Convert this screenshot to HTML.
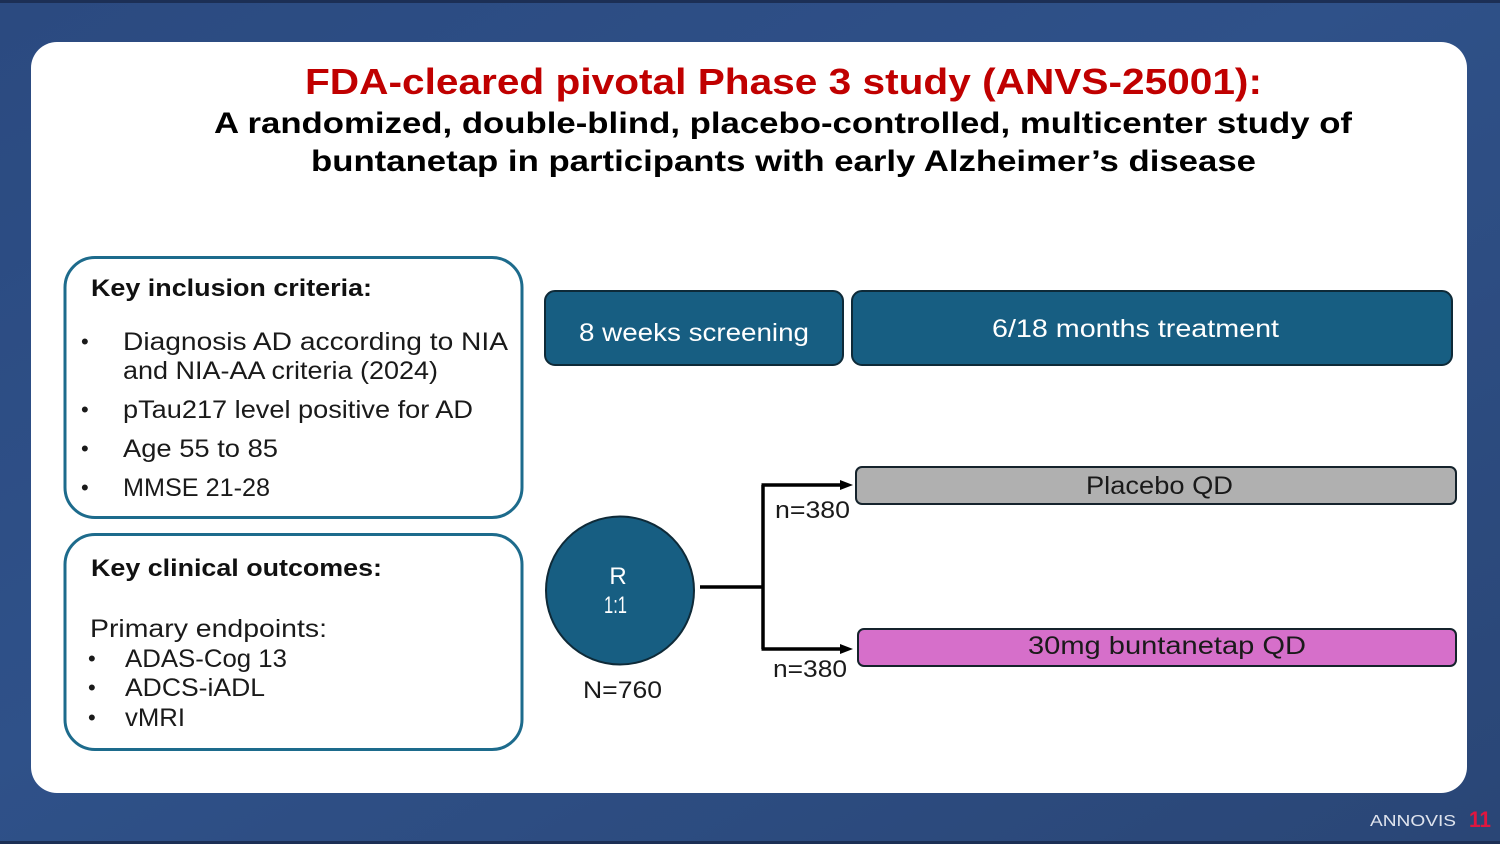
<!DOCTYPE html>
<html><head><meta charset="utf-8"><style>
html,body{margin:0;padding:0;width:1500px;height:844px;overflow:hidden;}
svg{display:block;}
text{font-family:"Liberation Sans",sans-serif;}
</style></head><body>
<svg width="1500" height="844" viewBox="0 0 1500 844" xmlns="http://www.w3.org/2000/svg">
<defs>
<linearGradient id="bg" x1="0" y1="0" x2="1" y2="1">
<stop offset="0" stop-color="#2b4a80"/>
<stop offset="0.45" stop-color="#2f5189"/>
<stop offset="1" stop-color="#2a4676"/>
</linearGradient>
</defs>
<rect x="0" y="0" width="1500" height="844" fill="url(#bg)"/>
<rect x="0" y="0" width="1500" height="3" fill="#1c2f55"/>
<rect x="0" y="841" width="1500" height="3" fill="#1c2f55"/>
<rect x="31" y="42" width="1436" height="751" rx="26" fill="#ffffff"/>

<!-- Title -->
<text x="305" y="94" font-size="36" font-weight="bold" fill="#c00000" textLength="957" lengthAdjust="spacingAndGlyphs">FDA-cleared pivotal Phase 3 study (ANVS-25001):</text>
<text x="214" y="133" font-size="30" font-weight="bold" fill="#000" textLength="1138" lengthAdjust="spacingAndGlyphs">A randomized, double-blind, placebo-controlled, multicenter study of</text>
<text x="311" y="171" font-size="30" font-weight="bold" fill="#000" textLength="945" lengthAdjust="spacingAndGlyphs">buntanetap in participants with early Alzheimer’s disease</text>

<!-- Left box 1 -->
<rect x="65" y="257.5" width="457" height="260" rx="30" fill="#fff" stroke="#1d6b8c" stroke-width="3"/>
<text x="91" y="296" font-size="24" font-weight="bold" fill="#111" textLength="281" lengthAdjust="spacingAndGlyphs">Key inclusion criteria:</text>
<g font-size="25" fill="#1a1a1a">
<text x="81" y="349" font-size="22">•</text>
<text x="123" y="350" textLength="385" lengthAdjust="spacingAndGlyphs">Diagnosis AD according to NIA</text>
<text x="123" y="379" textLength="315" lengthAdjust="spacingAndGlyphs">and NIA-AA criteria (2024)</text>
<text x="81" y="417" font-size="22">•</text>
<text x="123" y="418" textLength="350" lengthAdjust="spacingAndGlyphs">pTau217 level positive for AD</text>
<text x="81" y="456" font-size="22">•</text>
<text x="123" y="457" textLength="155" lengthAdjust="spacingAndGlyphs">Age 55 to 85</text>
<text x="81" y="495" font-size="22">•</text>
<text x="123" y="496" textLength="147" lengthAdjust="spacingAndGlyphs">MMSE 21-28</text>
</g>

<!-- Left box 2 -->
<rect x="65" y="534.5" width="457" height="215" rx="30" fill="#fff" stroke="#1d6b8c" stroke-width="3"/>
<text x="91" y="576" font-size="24" font-weight="bold" fill="#111" textLength="291" lengthAdjust="spacingAndGlyphs">Key clinical outcomes:</text>
<g font-size="25" fill="#1a1a1a">
<text x="90" y="637" textLength="237" lengthAdjust="spacingAndGlyphs">Primary endpoints:</text>
<text x="88" y="666" font-size="22">•</text>
<text x="125" y="667" textLength="162" lengthAdjust="spacingAndGlyphs">ADAS-Cog 13</text>
<text x="88" y="695" font-size="22">•</text>
<text x="125" y="696" textLength="140" lengthAdjust="spacingAndGlyphs">ADCS-iADL</text>
<text x="88" y="725" font-size="22">•</text>
<text x="125" y="726" textLength="60" lengthAdjust="spacingAndGlyphs">vMRI</text>
</g>

<!-- Timeline boxes -->
<rect x="545" y="291" width="298" height="74" rx="10" fill="#175e82" stroke="#0e2a38" stroke-width="2"/>
<text x="579" y="341" font-size="25" fill="#fff" textLength="230" lengthAdjust="spacingAndGlyphs">8 weeks screening</text>
<rect x="852" y="291" width="600" height="74" rx="10" fill="#175e82" stroke="#0e2a38" stroke-width="2"/>
<text x="992" y="337" font-size="25" fill="#fff" textLength="287" lengthAdjust="spacingAndGlyphs">6/18 months treatment</text>

<!-- Arms -->
<rect x="856" y="467" width="600" height="37" rx="6" fill="#b0b0b0" stroke="#15232c" stroke-width="2"/>
<text x="1086" y="494" font-size="25" fill="#1a1a1a" textLength="147" lengthAdjust="spacingAndGlyphs">Placebo QD</text>
<rect x="858" y="629" width="598" height="37" rx="6" fill="#d66fca" stroke="#15232c" stroke-width="2"/>
<text x="1028" y="654" font-size="25" fill="#1a1a1a" textLength="278" lengthAdjust="spacingAndGlyphs">30mg buntanetap QD</text>

<!-- Randomization circle -->
<circle cx="620" cy="590.5" r="74" fill="#175e82" stroke="#0e2a38" stroke-width="2"/>
<text x="618" y="584" font-size="24" fill="#fff" text-anchor="middle">R</text>
<text x="604" y="613" font-size="24" fill="#fff" textLength="23" lengthAdjust="spacingAndGlyphs">1:1</text>
<text x="583" y="698" font-size="24" fill="#1a1a1a" textLength="79" lengthAdjust="spacingAndGlyphs">N=760</text>

<!-- Connectors -->
<g stroke="#000" stroke-width="3.5" fill="none">
<line x1="700" y1="587" x2="764" y2="587"/>
<line x1="763" y1="485" x2="763" y2="649"/>
<line x1="761.5" y1="485" x2="842" y2="485"/>
<line x1="761.5" y1="649" x2="842" y2="649"/>
</g>
<polygon points="840,480 853,485 840,490" fill="#000"/>
<polygon points="840,644 853,649 840,654" fill="#000"/>
<text x="775" y="518" font-size="24" fill="#1a1a1a" textLength="75" lengthAdjust="spacingAndGlyphs">n=380</text>
<text x="773" y="677" font-size="24" fill="#1a1a1a" textLength="74" lengthAdjust="spacingAndGlyphs">n=380</text>

<!-- Footer logo -->
<text x="1370" y="826" font-size="16" fill="#dfe4ee" textLength="86" lengthAdjust="spacingAndGlyphs">ANNOVIS</text>
<text x="1469" y="827" font-size="22" font-weight="bold" fill="#e0163f" textLength="22" lengthAdjust="spacingAndGlyphs">11</text>
</svg>
</body></html>
